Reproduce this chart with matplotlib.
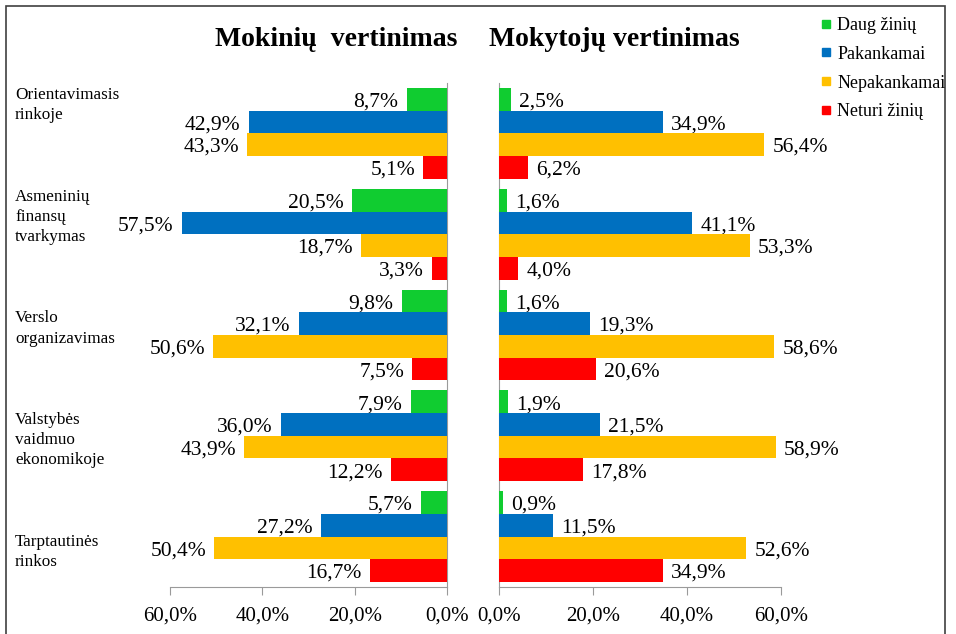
import matplotlib
matplotlib.use('Agg')
import matplotlib.pyplot as plt
from matplotlib.lines import Line2D
from matplotlib.patches import Rectangle
from matplotlib.ticker import FuncFormatter

plt.rcParams['font.family'] = ['Liberation Serif', 'DejaVu Serif']

# data
categories = ['Orientavimasis\nrinkoje', 'Asmeninių\nfinansų\ntvarkymas', 'Verslo\norganizavimas',
              'Valstybės\nvaidmuo\nekonomikoje', 'Tarptautinės\nrinkos']
series = ['Daug žinių', 'Pakankamai', 'Nepakankamai', 'Neturi žinių']
colors = ['#10CC30', '#0070C0', '#FFC000', '#FF0000']

students_daug = [8.7, 20.5, 9.8, 7.9, 5.7]
students_pak = [42.9, 57.5, 32.1, 36.0, 27.2]
students_nepak = [43.3, 18.7, 50.6, 43.9, 50.4]
students_neturi = [5.1, 3.3, 7.5, 12.2, 16.7]

teachers_daug = [2.5, 1.6, 1.6, 1.9, 0.9]
teachers_pak = [34.9, 41.1, 19.3, 21.5, 11.5]
teachers_nepak = [56.4, 53.3, 58.6, 58.9, 52.6]
teachers_neturi = [6.2, 4.0, 20.6, 17.8, 34.9]

students = [students_daug, students_pak, students_nepak, students_neturi]
teachers = [teachers_daug, teachers_pak, teachers_nepak, teachers_neturi]

W, H = 956, 634
fig = plt.figure(figsize=(W / 100, H / 100), dpi=100)

def px(x0, y0, x1, y1):
    return [x0 / W, 1 - y1 / H, (x1 - x0) / W, (y1 - y0) / H]

axL = fig.add_axes(px(170, 83, 447, 587))
axR = fig.add_axes(px(499, 83, 781, 587))

bh = 0.225
pct = FuncFormatter(lambda v, p: f'{v:.1f}%'.replace('.', ','))
axis_col = '#9a9a9a'

for ax, data, side in [(axL, students, 'left'), (axR, teachers, 'right')]:
    for j, vals in enumerate(data):
        ys = [i + (j - 1.5) * bh for i in range(len(categories))]
        ax.barh(ys, vals, height=bh, color=colors[j], zorder=3)
        for y, v in zip(ys, vals):
            lab = f'{v:.1f}%'.replace('.', ',')
            if side == 'left':
                ax.annotate(lab, (v, y), xytext=(-6, -2), textcoords='offset points',
                            ha='right', va='center', fontsize=15.5, zorder=2)
            else:
                ax.annotate(lab, (v, y), xytext=(6, -2), textcoords='offset points',
                            ha='left', va='center', fontsize=15.5, zorder=2)
    ax.set_ylim(len(categories) - 0.5, -0.5)
    ax.set_yticks([])
    ax.set_xticks([0, 20, 40, 60])
    ax.xaxis.set_major_formatter(pct)
    ax.tick_params(axis='x', direction='out', length=6, color=axis_col, labelsize=15, pad=8)
    ax.spines['top'].set_visible(False)
    ax.spines['bottom'].set_color(axis_col)
    ax.patch.set_alpha(0)

axL.set_xlim(60, 0)
axL.spines['left'].set_visible(False)
axL.spines['right'].set_color(axis_col)
axR.set_xlim(0, 60)
axR.spines['right'].set_visible(False)
axR.spines['left'].set_color(axis_col)
for ax in (axL, axR):
    for t in ax.texts:
        t.set_annotation_clip(False)

# titles
fig.text(336 / W, 1 - 40 / H, 'Mokinių  vertinimas', ha='center', va='center',
         fontsize=20, fontweight='bold')
fig.text(614 / W, 1 - 40 / H, 'Mokytojų vertinimas', ha='center', va='center',
         fontsize=20, fontweight='bold')

# category labels
for i, c in enumerate(categories):
    fig.text(15 / W, 1 - (105 + 111.75 * i) / H, c, ha='left', va='center',
             fontsize=12.3, linespacing=1.35)

# legend
handles = [Line2D([], [], marker='s', linestyle='', markersize=6, color=c) for c in colors]
fig.legend(handles, series, loc='upper left', bbox_to_anchor=(812 / W, 1 - 8 / H),
           frameon=False, fontsize=13, handlelength=0.6, handletextpad=0.3,
           labelspacing=0.65, borderpad=0)

# outer border
fig.patches.append(Rectangle((6 / W, -0.1), (945 - 6) / W, 1.1 - 6 / H, transform=fig.transFigure,
                             fill=False, edgecolor='#404040', linewidth=1.2))

fig.savefig('out.png', dpi=100)
